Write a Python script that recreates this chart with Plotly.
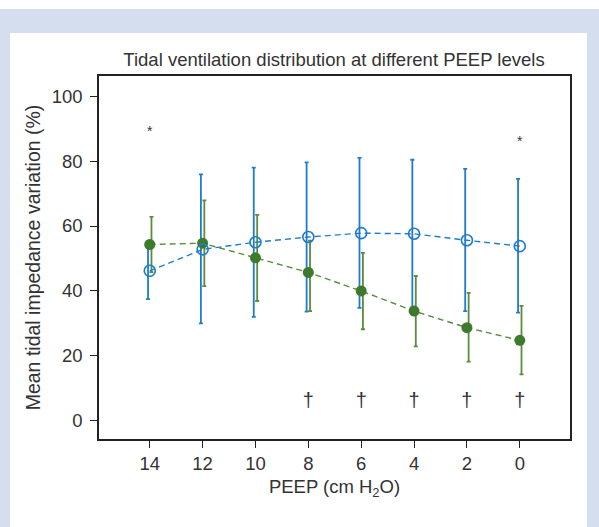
import plotly.graph_objects as go

peep = [14, 12, 10, 8, 6, 4, 2, 0]
tick_labels = ["14", "12", "10", "8", "6", "4", "2", "0"]

blue_mean = [46.2, 52.8, 55.0, 56.6, 57.8, 57.6, 55.6, 53.8]
blue_upper = [54.5, 75.9, 78.0, 79.6, 81.0, 80.4, 77.6, 74.5]
blue_lower = [37.5, 30.0, 32.0, 33.6, 34.8, 35.0, 33.8, 33.3]

green_mean = [54.3, 54.7, 50.2, 45.7, 40.0, 33.8, 28.7, 24.8]
green_upper = [62.8, 67.9, 63.4, 55.5, 51.7, 44.6, 39.4, 35.4]
green_lower = [45.8, 41.5, 36.9, 33.8, 28.2, 22.9, 18.2, 14.3]

star_x = [14, 0]
star_y = [88.9, 85.8]
dagger_x = [8, 6, 4, 2, 0]
dagger_y = [5.9, 5.9, 5.9, 5.9, 5.9]

BLUE = "#1f7ccc"
GREEN = "#3e7a2c"
GREEN_BAR = "#5b8c3f"
TXT = "#333333"
FONT = "Liberation Sans, Arial, sans-serif"

off = 0.065
fig = go.Figure()

fig.add_trace(go.Scatter(
    x=[p + off for p in peep], y=blue_mean, mode="markers",
    marker=dict(size=1, color="rgba(0,0,0,0)"),
    error_y=dict(type="data", symmetric=False,
                 array=[u - m for u, m in zip(blue_upper, blue_mean)],
                 arrayminus=[m - l for m, l in zip(blue_mean, blue_lower)],
                 color=BLUE, thickness=1.8, width=2),
    showlegend=False, hoverinfo="skip"))
fig.add_trace(go.Scatter(
    x=[p - off for p in peep], y=green_mean, mode="markers",
    marker=dict(size=1, color="rgba(0,0,0,0)"),
    error_y=dict(type="data", symmetric=False,
                 array=[u - m for u, m in zip(green_upper, green_mean)],
                 arrayminus=[m - l for m, l in zip(green_mean, green_lower)],
                 color=GREEN_BAR, thickness=1.8, width=2),
    showlegend=False, hoverinfo="skip"))

fig.add_trace(go.Scatter(
    x=peep, y=green_mean, mode="lines+markers",
    line=dict(color=GREEN_BAR, width=1.4, dash="6px,4px"),
    marker=dict(symbol="circle", size=11, color=GREEN, line=dict(width=0)),
    showlegend=False))
fig.add_trace(go.Scatter(
    x=peep, y=blue_mean, mode="lines+markers",
    line=dict(color=BLUE, width=1.4, dash="6px,4px"),
    marker=dict(symbol="circle-open", size=11, color=BLUE, line=dict(width=1.6)),
    showlegend=False))

fig.add_trace(go.Scatter(
    x=star_x, y=star_y, mode="text", text=["*"] * len(star_x),
    textfont=dict(size=14, color=TXT, family=FONT),
    showlegend=False, hoverinfo="skip"))
fig.add_trace(go.Scatter(
    x=dagger_x, y=dagger_y, mode="text", text=["†"] * len(dagger_x),
    textfont=dict(size=20, color=TXT, family=FONT),
    showlegend=False, hoverinfo="skip"))

L, R, T, B = 99, 29, 76, 88
W, H = 599, 527
pw, ph = W - L - R, H - T - B

def px_x(px):
    return (px - L) / pw

def px_y(py):
    return (H - B - py) / ph

shapes = [
    dict(type="rect", xref="paper", yref="paper", layer="below",
         x0=px_x(-5), x1=px_x(W + 5), y0=px_y(9), y1=px_y(-5),
         fillcolor="white", line=dict(width=0)),
    dict(type="rect", xref="paper", yref="paper", layer="below",
         x0=px_x(10), x1=px_x(587), y0=px_y(H + 5), y1=px_y(33),
         fillcolor="white", line=dict(width=0)),
]

fig.update_layout(
    width=W, height=H,
    margin=dict(l=L, r=R, t=T, b=B, autoexpand=False),
    paper_bgcolor="#d5deef",
    plot_bgcolor="white",
    shapes=shapes,
    font=dict(family=FONT, color=TXT, size=18.5),
    title=dict(text="Tidal ventilation distribution at different PEEP levels",
               x=px_x(334), xref="paper", xanchor="center",
               y=1 - 60 / H, yanchor="middle",
               font=dict(size=18.5, color=TXT)),
    xaxis=dict(range=[15.92, -1.9], tickvals=peep, ticktext=tick_labels,
               ticks="outside", ticklen=7, tickwidth=1.2, tickcolor="#222",
               showline=True, linecolor="#222", linewidth=1.5, mirror=True,
               showgrid=False, zeroline=False, automargin=False,
               tickfont=dict(size=18.5, color=TXT),
               title=dict(text="PEEP (cm H<sub>2</sub>O)", standoff=7,
                          font=dict(size=18.5, color=TXT))),
    yaxis=dict(range=[-5.6, 106.2], tickvals=[0, 20, 40, 60, 80, 100],
               ticks="outside", ticklen=7, tickwidth=1.2, tickcolor="#222",
               showline=True, linecolor="#222", linewidth=1.5, mirror=True,
               showgrid=False, zeroline=False, automargin=False,
               ticklabelstandoff=4,
               tickfont=dict(size=18.5, color=TXT),
               title=dict(text="Mean tidal impedance variation (%)", standoff=6,
                          font=dict(size=19.5, color=TXT))),
)

fig.write_html(
    "out.html",
    config={"displayModeBar": False},
    post_script="document.body.style.margin='0';document.body.style.overflow='hidden';",
)
